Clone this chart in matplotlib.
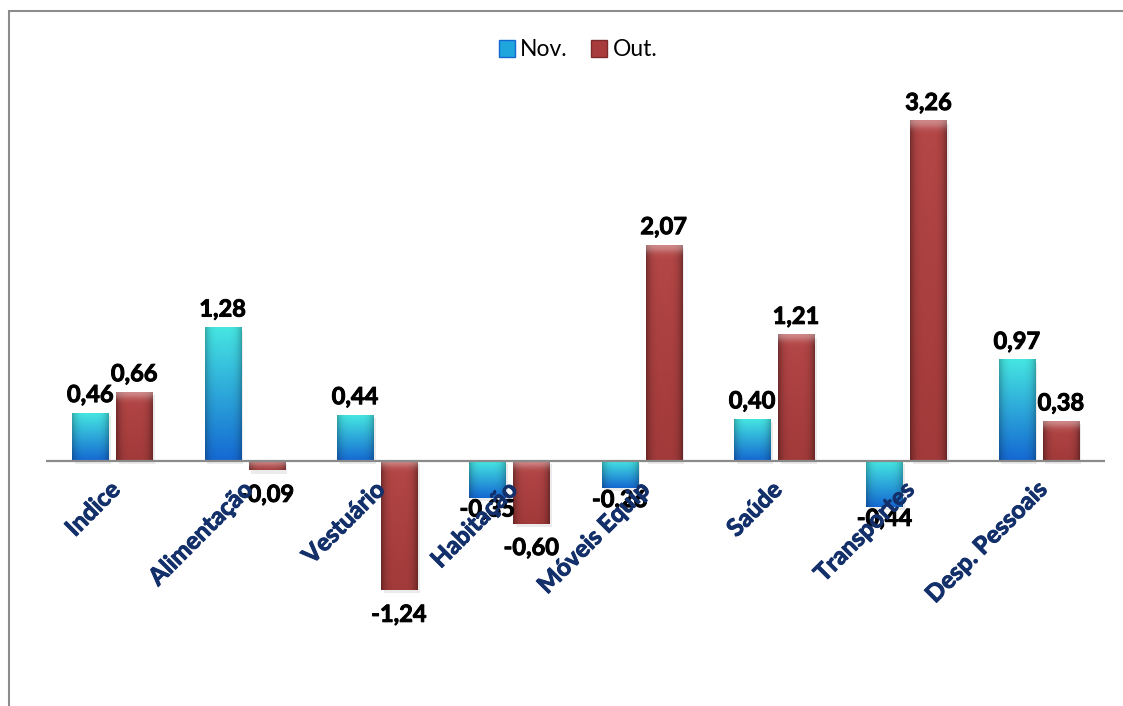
import numpy as np
import matplotlib
matplotlib.use("Agg")
import matplotlib.pyplot as plt
import matplotlib.patheffects as pe
from matplotlib.patches import Rectangle, Patch
from matplotlib.colors import to_rgb

# dados
categorias = ["Indice", "Alimentação", "Vestuário", "Habitação", "Móveis Equip",
              "Saúde", "Transportes", "Desp. Pessoais"]
nov = [0.46, 1.28, 0.44, -0.35, -0.26, 0.40, -0.44, 0.97]
out = [0.66, -0.09, -1.24, -0.60, 2.07, 1.21, 3.26, 0.38]

plt.rcParams['font.family'] = ['Lato', 'DejaVu Sans']


def fmt(v):
    return ("%.2f" % v).replace(".", ",")


def gradiente(ax, patch, top, bottom, edge_dark=0.3, highlight=0.0):
    # pinta a barra com um degrade vertical + escurecimento nas bordas
    x0, y0 = patch.get_x(), patch.get_y()
    w, h = patch.get_width(), patch.get_height()
    ylo, yhi = min(y0, y0 + h), max(y0, y0 + h)
    ny, nx = 100, 40
    t = np.linspace(0, 1, ny)[:, None, None]        # 0 = topo
    c = np.array(to_rgb(top)) * (1 - t) + np.array(to_rgb(bottom)) * t
    s = np.linspace(-1, 1, nx)[None, :, None]
    c = c * (1 - edge_dark * np.abs(s) ** 4)
    if highlight:
        band = np.exp(-(np.linspace(0, 1, ny) * (yhi - ylo) / 0.06) ** 2)[:, None, None]
        c = c + (1 - c) * highlight * band
    c = np.clip(c, 0, 1)
    ax.imshow(c, extent=[x0, x0 + w, ylo, yhi], aspect='auto', zorder=3,
              interpolation='bilinear')


fig = plt.figure(figsize=(11.23, 7.06), dpi=100)
ax = fig.add_axes([46 / 1123, 1 - 620 / 706, (1105 - 46) / 1123, (620 - 80) / 706])

x = np.arange(len(categorias))
w = 0.272
b1 = ax.bar(x - 0.166, nov, w, color='none', zorder=2)
b2 = ax.bar(x + 0.166, out, w, color='none', zorder=2)

for p in b1:
    gradiente(ax, p, '#45E6E2', '#1468D2', edge_dark=0.25)
for p in b2:
    gradiente(ax, p, '#B44646', '#A23A3A', edge_dark=0.35, highlight=0.35)

# sombra leve
for p in list(b1) + list(b2):
    ax.add_patch(Rectangle((p.get_x() + 0.02, p.get_y() - 0.03), p.get_width(),
                           p.get_height(), color='#000000', alpha=0.08, zorder=2.5, lw=0))

negrito = [pe.withStroke(linewidth=0.7, foreground='black')]
negrito_azul = [pe.withStroke(linewidth=0.7, foreground='#13306B')]

# rotulos dos valores (Out. negativos ficam mais afastados, como no original)
for bars, vals, desl in ((b1, nov, 0), (b2, out, -9)):
    for p, v in zip(bars, vals):
        xc = p.get_x() + p.get_width() / 2
        if v >= 0:
            ax.annotate(fmt(v), (xc, v), xytext=(0, 5), textcoords='offset points',
                        ha='center', va='bottom', fontsize=17, fontweight='bold', zorder=6,
                        path_effects=negrito)
        else:
            ax.annotate(fmt(v), (xc, v), xytext=(0, desl), textcoords='offset points',
                        ha='center', va='top', fontsize=17, fontweight='bold', zorder=6,
                        path_effects=negrito)

# categorias junto ao eixo zero
for xi, nome in zip(x, categorias):
    ax.annotate(nome, (xi, 0), xytext=(-3, -12), textcoords='offset points',
                rotation=45, rotation_mode='anchor', ha='right', va='top',
                fontsize=17.5, fontweight='bold', color='#13306B', zorder=6,
                path_effects=negrito_azul)

ax.axhline(0, color='#8a8a8a', lw=1.6, zorder=4)
ax.set_xlim(-0.5, len(categorias) - 0.5)
ax.set_ylim(-(620 - 461) / 104.3, (461 - 80) / 104.3)
ax.set_xticks([])
ax.set_yticks([])
for s in ax.spines.values():
    s.set_visible(False)

handles = [Patch(facecolor='#1FA6DC', edgecolor='#1468D2'),
           Patch(facecolor='#A83C3C', edgecolor='#7E2A2A')]
fig.legend(handles, ['Nov.', 'Out.'], loc='center', bbox_to_anchor=(578 / 1123, 1 - 50 / 706),
           ncol=2, frameon=False, fontsize=16.5, handlelength=0.7, handleheight=0.7,
           handletextpad=0.25, columnspacing=1.0)

# moldura do grafico
fig.add_artist(Rectangle((8.5 / 1123, -0.2), 2, 1.2 - 10.5 / 706, transform=fig.transFigure,
                         fill=False, edgecolor='#8c8c8c', lw=1.5))

plt.savefig('out.png', dpi=100)
